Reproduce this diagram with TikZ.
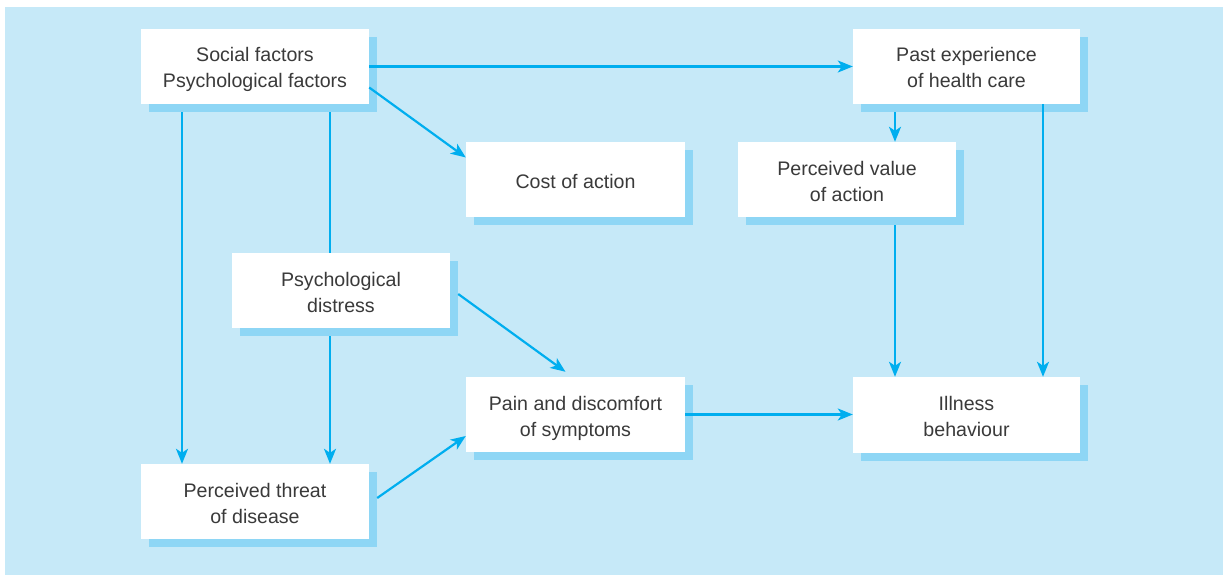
\documentclass[tikz,border=0pt]{standalone}
\usepackage{fontspec}
\setmainfont{Liberation Sans}
\usetikzlibrary{arrows.meta}
\definecolor{panel}{HTML}{C6E9F8}
\definecolor{shade}{HTML}{8ED6F5}
\definecolor{flow}{HTML}{00AEEF}
\definecolor{ink}{HTML}{3A3A3A}
% struts that fix the room above the first line and below the last one
\newcommand\tophold{\rule{0pt}{22pt}}
\newcommand\bothold{\rule[-5pt]{0pt}{5pt}}
\tikzset{
  card/.style={fill=white, draw=none, inner sep=0pt, align=center, text=ink,
    font=\fontsize{19.6}{26}\selectfont,
    preaction={fill=shade, transform canvas={xshift=8pt, yshift=-8pt}}},
  link/.style={draw=flow, line width=2.2pt},
  arr/.style={link, -{Stealth[length=15pt, width=12pt, inset=4pt]}}
}
\begin{document}
\begin{tikzpicture}[x=1pt, y=-1pt]
  \useasboundingbox (0,0) rectangle (1226,575);
  \fill[panel] (5,7) rectangle (1223,575);

  % boxes
  \node[card, minimum width=228pt, minimum height=75pt] (social) at (255,66.5)
    {\tophold Social factors\\Psychological factors\bothold};
  \node[card, minimum width=227pt, minimum height=75pt] (past) at (966.5,66.5)
    {\tophold Past experience\\of health care\bothold};
  \node[card, minimum width=219pt, minimum height=75pt] (cost) at (575.5,179.5)
    {\tophold Cost of action\bothold};
  \node[card, minimum width=218pt, minimum height=75pt] (value) at (847,179.5)
    {\tophold Perceived value\\of action\bothold};
  \node[card, minimum width=218pt, minimum height=75pt] (distress) at (341,290.5)
    {\tophold Psychological\\distress\bothold};
  \node[card, minimum width=219pt, minimum height=75pt] (pain) at (575.5,414.5)
    {\tophold Pain and discomfort\\of symptoms\bothold};
  \node[card, minimum width=227pt, minimum height=76pt] (illness) at (966.5,415)
    {\tophold Illness\\behaviour\bothold};
  \node[card, minimum width=228pt, minimum height=75pt] (threat) at (255,501.5)
    {\tophold Perceived threat\\of disease\bothold};

  % connectors
  \draw[arr] (social.east) -- (past.west);
  \draw[arr] ([yshift=-21pt]social.east) -- ([yshift=22pt]cost.west);
  \draw[arr] ([shift={(-73,8)}]social.south) -- ([shift={(-73,0)}]social.south |- threat.north);
  \draw[link] ([shift={(75,8)}]social.south) -- ([shift={(75,0)}]social.south |- distress.north);
  \draw[arr] ([shift={(-11,8)}]distress.south) -- ([shift={(-11,0)}]distress.south |- threat.north);
  \draw[arr] ([shift={(8,3.5)}]distress.east) -- ([shift={(-10,-5)}]pain.north);
  \draw[arr] ([shift={(8,-3.5)}]threat.east) -- ([yshift=-21.5pt]pain.west);
  \draw[arr] (pain.east) -- (pain.east -| illness.west);
  \draw[arr] ([shift={(-71.5,8)}]past.south) -- ([shift={(-71.5,0)}]past.south |- value.north);
  \draw[arr] ([shift={(48,8)}]value.south) -- ([shift={(48,0)}]value.south |- illness.north);
  \draw[arr] ([shift={(76.5,0)}]past.south) -- ([shift={(76.5,0)}]past.south |- illness.north);
\end{tikzpicture}
\end{document}
